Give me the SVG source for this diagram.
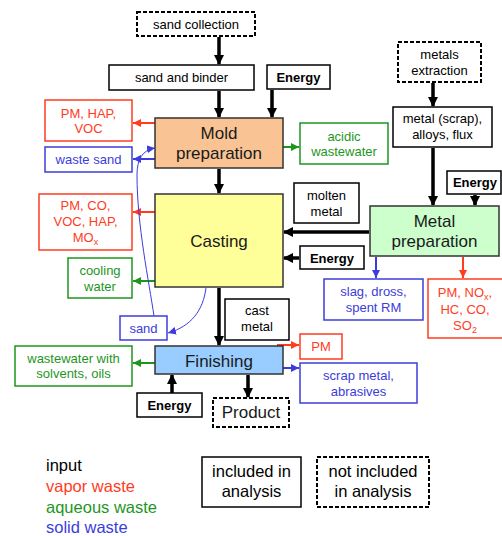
<svg xmlns="http://www.w3.org/2000/svg" width="502" height="536" viewBox="0 0 502 536">
<style>
text{font-family:"Liberation Sans",Arial,sans-serif;text-anchor:middle;}
.s{font-size:13px;fill:#000;}
.b{font-size:13px;font-weight:bold;fill:#000;}
.p{font-size:17px;fill:#1a1a1a;}
.l{font-size:16.5px;}
.box{fill:#fff;stroke:#000;stroke-width:1.5;}
.dash{fill:#fff;stroke:#000;stroke-width:2;stroke-dasharray:4 2;}
.red{fill:#fff;stroke:#FF3C1E;stroke-width:1.5;}
.grn{fill:#fff;stroke:#1E961E;stroke-width:1.5;}
.blu{fill:#fff;stroke:#3C3CDC;stroke-width:1.5;}
.tr{fill:#FF3C1E;font-size:13px;}
.tg{fill:#1E961E;font-size:13px;}
.tb{fill:#3C3CDC;font-size:13px;}
.ak{stroke:#000;stroke-width:3.5;fill:none;marker-end:url(#mk);}
.ar{stroke:#FF3C1E;stroke-width:2;fill:none;marker-end:url(#mr);}
.ag{stroke:#1E961E;stroke-width:2;fill:none;marker-end:url(#mg);}
.ab{stroke:#3C3CDC;stroke-width:2;fill:none;marker-end:url(#mb);}
.abt{stroke:#3C3CDC;stroke-width:1;fill:none;marker-end:url(#mb);}
.proc{stroke:#333;stroke-width:1.5;}
</style>
<defs>
<marker id="mk" markerUnits="userSpaceOnUse" markerWidth="11" markerHeight="10" refX="9" refY="5" orient="auto"><path d="M0,0 L10,5 L0,10 z" fill="#000"/></marker>
<marker id="mr" markerUnits="userSpaceOnUse" markerWidth="9" markerHeight="8" refX="8" refY="4" orient="auto"><path d="M0,0 L8,4 L0,8 z" fill="#FF3C1E"/></marker>
<marker id="mg" markerUnits="userSpaceOnUse" markerWidth="9" markerHeight="8" refX="8" refY="4" orient="auto"><path d="M0,0 L8,4 L0,8 z" fill="#1E961E"/></marker>
<marker id="mb" markerUnits="userSpaceOnUse" markerWidth="9" markerHeight="8" refX="8" refY="4" orient="auto"><path d="M0,0 L8,4 L0,8 z" fill="#3C3CDC"/></marker>
</defs>
<rect width="502" height="536" fill="#fff"/>

<g id="connectors">
<line class="ak" x1="219" y1="37" x2="219" y2="64"/>
<line class="ak" x1="219" y1="91" x2="219" y2="117"/>
<line class="ak" x1="272" y1="90" x2="272" y2="117"/>
<line class="ak" x1="219" y1="169" x2="219" y2="193"/>
<line class="ak" x1="219" y1="288" x2="219" y2="345"/>
<line class="ak" x1="433" y1="83" x2="433" y2="106"/>
<line class="ak" x1="433" y1="148" x2="433" y2="205"/>
<line class="ak" x1="475" y1="195" x2="475" y2="205"/>
<line class="ak" x1="369" y1="232" x2="284" y2="232"/>
<line class="ak" x1="299" y1="258" x2="284" y2="258"/>
<line class="ak" x1="172" y1="393" x2="172" y2="375"/>
<line class="ak" x1="248" y1="375" x2="248" y2="397"/>
<line class="ar" x1="155" y1="123" x2="133" y2="123"/>
<line class="ar" x1="155" y1="212" x2="133" y2="212"/>
<line class="ar" x1="463" y1="257" x2="463" y2="278"/>
<line class="ar" x1="277" y1="345" x2="299" y2="345"/>
<line class="ag" x1="283" y1="147" x2="299" y2="147"/>
<line class="ag" x1="155" y1="281" x2="133" y2="281"/>
<line class="ag" x1="155" y1="363" x2="133" y2="363"/>
<line class="ab" x1="155" y1="159" x2="133" y2="159"/>
<line class="ab" x1="376" y1="257" x2="376" y2="278"/>
<line class="ab" x1="283" y1="368" x2="299" y2="368"/>
<path class="abt" d="M154,316 C149,282 137,225 137,175 C137,160 142,150 155,148"/>
<path class="abt" d="M206,288 C203,310 192,326 168,333"/>
</g>

<g id="sand-collection"><rect class="dash" x="137" y="12" width="118" height="24"/><text class="s" x="196" y="28.5">sand collection</text></g>
<g id="sand-binder"><rect class="box" x="109" y="65" width="145" height="25"/><text class="s" x="181.5" y="82">sand and binder</text></g>
<g id="energy-mold"><rect class="box" x="267" y="65" width="63" height="24"/><text class="b" x="298.5" y="81.5">Energy</text></g>
<g id="metals-extraction"><rect class="dash" x="398" y="42" width="83" height="40"/><text class="s" x="439.5" y="58.5">metals</text><text class="s" x="439.5" y="74.5">extraction</text></g>
<g id="metal-scrap"><rect class="box" x="393" y="107" width="99" height="40"/><text class="s" x="442.5" y="122.5">metal (scrap),</text><text class="s" x="442.5" y="138.5">alloys, flux</text></g>
<g id="energy-metal"><rect class="box" x="447" y="171" width="54" height="23"/><text class="b" x="475" y="187">Energy</text></g>

<g id="mold-preparation"><rect class="proc" x="155" y="118" width="128" height="50" fill="#F9C393"/><text class="p" x="219" y="139">Mold</text><text class="p" x="219" y="159">preparation</text></g>
<g id="pm-hap-voc"><rect class="red" x="45" y="100" width="87" height="41"/><text class="tr" x="88.5" y="117.5">PM, HAP,</text><text class="tr" x="88.5" y="132.5">VOC</text></g>
<g id="waste-sand"><rect class="blu" x="45" y="147" width="87" height="25"/><text class="tb" x="88.5" y="163.5">waste sand</text></g>
<g id="acidic-wastewater"><rect class="grn" x="300" y="123" width="88" height="41"/><text class="tg" x="344" y="140.5">acidic</text><text class="tg" x="344" y="155.5">wastewater</text></g>

<g id="casting"><rect class="proc" x="155" y="194" width="128" height="93" fill="#FFFF99"/><text class="p" x="219" y="247">Casting</text></g>
<g id="pm-co-voc"><rect class="red" x="39" y="194" width="93" height="56"/><text class="tr" x="85.5" y="209.5">PM, CO,</text><text class="tr" x="85.5" y="226">VOC, HAP,</text><text class="tr" x="85.5" y="241.5">MO<tspan font-size="9" dy="3">x</tspan></text></g>
<g id="cooling-water"><rect class="grn" x="68" y="258" width="64" height="40"/><text class="tg" x="100" y="274.5">cooling</text><text class="tg" x="100" y="290.5">water</text></g>
<g id="sand"><rect class="blu" x="120" y="316" width="47" height="24"/><text class="tb" x="143.5" y="332.5">sand</text></g>
<g id="molten-metal"><rect class="box" x="294" y="183" width="65" height="40"/><text class="s" x="326.5" y="199.5">molten</text><text class="s" x="326.5" y="215.5">metal</text></g>
<g id="energy-casting"><rect class="box" x="300" y="246" width="64" height="23"/><text class="b" x="332" y="262.5">Energy</text></g>

<g id="metal-preparation"><rect class="proc" x="370" y="206" width="129" height="50" fill="#CCFFCC"/><text class="p" x="434.5" y="227">Metal</text><text class="p" x="434.5" y="247">preparation</text></g>
<g id="slag"><rect class="blu" x="324" y="279" width="99" height="41"/><text class="tb" x="373.5" y="295.5">slag, dross,</text><text class="tb" x="373.5" y="311.5">spent RM</text></g>
<g id="pm-nox"><rect class="red" x="428" y="279" width="78" height="59"/><text class="tr" x="465" y="297">PM, NO<tspan font-size="9" dy="3">x</tspan><tspan dy="-3">,</tspan></text><text class="tr" x="465" y="313.5">HC, CO,</text><text class="tr" x="465" y="329.5">SO<tspan font-size="9" dy="3">2</tspan></text></g>

<g id="cast-metal"><rect class="box" x="225" y="299" width="64" height="41"/><text class="s" x="257" y="314.5">cast</text><text class="s" x="257" y="331">metal</text></g>
<g id="finishing"><rect class="proc" x="155" y="346" width="128" height="28" fill="#99CCFF"/><text class="p" x="219" y="367">Finishing</text></g>
<g id="wastewater-solvents"><rect class="grn" x="15" y="346" width="117" height="40"/><text class="tg" x="73.5" y="362.5">wastewater with</text><text class="tg" x="73.5" y="378">solvents, oils</text></g>
<g id="pm-finishing"><rect class="red" x="300" y="334" width="42" height="25"/><text class="tr" x="321" y="350.5">PM</text></g>
<g id="scrap-metal"><rect class="blu" x="300" y="363" width="117" height="40"/><text class="tb" x="358.5" y="379.5">scrap metal,</text><text class="tb" x="358.5" y="395.5">abrasives</text></g>
<g id="energy-finishing"><rect class="box" x="137" y="393" width="65" height="24"/><text class="b" x="169.5" y="409.5">Energy</text></g>
<g id="product"><rect class="dash" x="213" y="398" width="76" height="29"/><text class="p" x="251" y="418">Product</text></g>

<g id="legend">
<text class="l" x="46" y="471" style="text-anchor:start" fill="#000">input</text>
<text class="l" x="46" y="492" style="text-anchor:start" fill="#FF3C1E">vapor waste</text>
<text class="l" x="46" y="513" style="text-anchor:start" fill="#1E961E">aqueous waste</text>
<text class="l" x="46" y="533" style="text-anchor:start" fill="#3C3CDC">solid waste</text>
<rect class="box" x="202" y="457" width="99" height="50"/>
<text class="l" x="251.5" y="477" fill="#000">included in</text>
<text class="l" x="251.5" y="497" fill="#000">analysis</text>
<rect class="dash" x="317" y="457" width="112" height="50"/>
<text class="l" x="373" y="477" fill="#000">not included</text>
<text class="l" x="373" y="497" fill="#000">in analysis</text>
</g>
</svg>
